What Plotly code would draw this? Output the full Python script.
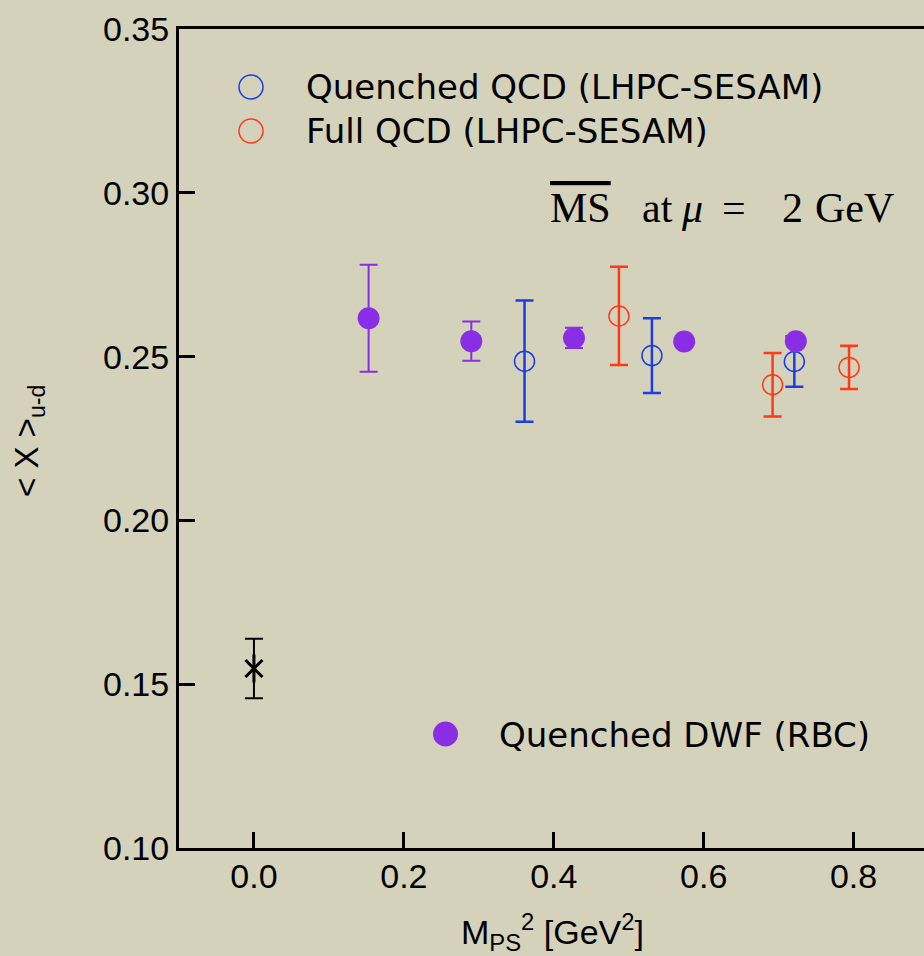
import plotly.graph_objects as go

# ---------------- data ----------------
dwf_x = [0.153, 0.290, 0.427, 0.574, 0.723]
dwf_y = [0.2617, 0.2547, 0.2557, 0.2546, 0.2547]
dwf_err = [0.0163, 0.0060, 0.0031, 0.0015, 0.0015]

qqcd_x = [0.361, 0.531, 0.721]
qqcd_y = [0.2486, 0.2503, 0.2485]
qqcd_err = [0.0185, 0.0114, 0.0077]

fqcd_x = [0.487, 0.692, 0.794]
fqcd_y = [0.2624, 0.2414, 0.2467]
fqcd_err = [0.0150, 0.0097, 0.0066]

exp_x = [0.0]
exp_y = [0.1548]
exp_err = [0.0091]

x_ticks = [0.0, 0.2, 0.4, 0.6, 0.8]
y_ticks = [0.10, 0.15, 0.20, 0.25, 0.30, 0.35]

PURPLE = "#8A2EE6"
BLUE = "#1E3CE6"
RED = "#FF3A1A"
BG = "#D4D2BB"

W, H = 924, 956
ML, MR, MT, MB = 179, 0, 29, 108
PW, PH = W - ML - MR, H - MT - MB


def px(x):
    return (x - ML) / PW


def py(y):
    return (H - MB - y) / PH


fig = go.Figure()

fig.add_trace(go.Scatter(
    x=qqcd_x, y=qqcd_y, mode="markers", name="Quenched QCD (LHPC-SESAM)",
    marker=dict(symbol="circle-open", size=20, color=BLUE, line=dict(width=1.5, color=BLUE)),
    error_y=dict(type="data", array=qqcd_err, color=BLUE, thickness=2.5, width=9),
))
fig.add_trace(go.Scatter(
    x=fqcd_x, y=fqcd_y, mode="markers", name="Full QCD (LHPC-SESAM)",
    marker=dict(symbol="circle-open", size=20, color=RED, line=dict(width=1.5, color=RED)),
    error_y=dict(type="data", array=fqcd_err, color=RED, thickness=2.5, width=9),
))
fig.add_trace(go.Scatter(
    x=dwf_x, y=dwf_y, mode="markers", name="Quenched DWF (RBC)",
    marker=dict(symbol="circle", size=22, color=PURPLE),
    error_y=dict(type="data", array=dwf_err, color=PURPLE, thickness=2, width=9),
))
fig.add_trace(go.Scatter(
    x=exp_x, y=exp_y, mode="markers", name="experiment",
    marker=dict(symbol="x-thin-open", size=17, color="black", line=dict(width=3, color="black")),
    error_y=dict(type="data", array=exp_err, color="black", thickness=2, width=9),
))
fig.add_trace(go.Scatter(
    x=exp_x, y=exp_y, mode="markers", name="experiment2",
    marker=dict(symbol="line-ns-open", size=20, color="black", line=dict(width=3, color="black")),
))

axis_common = dict(
    showline=True, linewidth=3, linecolor="black",
    ticks="inside", ticklen=16, tickwidth=3, tickcolor="black",
    showgrid=False, zeroline=False,
    tickfont=dict(family="Liberation Sans, Arial, sans-serif", size=34, color="black"),
)

fig.update_xaxes(range=[-0.1, 0.894], tickvals=x_ticks,
                 ticktext=[f"{v:.1f}" for v in x_ticks], mirror=True,
                 ticklabelstandoff=-4, **axis_common)
fig.update_yaxes(range=[0.10, 0.35], tickvals=y_ticks,
                 ticktext=[f"{v:.2f}" for v in y_ticks], mirror=False, **axis_common)

legend_font = dict(family="DejaVu Sans, sans-serif", size=34, color="black")
serif = dict(family="Liberation Serif, Times New Roman, serif", size=42, color="black")
annotations = [
    dict(x=px(304), y=py(87), text="Quenched QCD (LHPC-SESAM)", xanchor="left", yanchor="middle",
         font=legend_font),
    dict(x=px(304), y=py(131), text="Full QCD (LHPC-SESAM)", xanchor="left", yanchor="middle",
         font=legend_font),
    dict(x=px(497), y=py(735), text="Quenched DWF (RBC)", xanchor="left", yanchor="middle",
         font=legend_font),
    # MS-bar scheme label, pieces placed like the typeset formula
    dict(x=px(548), y=py(208), text='<span style="text-decoration:overline">MS</span>',
         xanchor="left", yanchor="middle", font=serif),
    dict(x=px(640), y=py(208), text="at", xanchor="left", yanchor="middle", font=serif),
    dict(x=px(679), y=py(208), text="<i>μ</i>", xanchor="left", yanchor="middle", font=serif),
    dict(x=px(720), y=py(208), text="=", xanchor="left", yanchor="middle", font=serif),
    dict(x=px(780), y=py(208), text="2", xanchor="left", yanchor="middle", font=serif),
    dict(x=px(813), y=py(208), text="GeV", xanchor="left", yanchor="middle", font=serif),
    dict(x=px(552), y=py(932), text="M<sub>PS</sub><sup>2</sup> [GeV<sup>2</sup>]",
         xanchor="center", yanchor="middle",
         font=dict(family="Liberation Sans, Arial, sans-serif", size=34, color="black")),
    dict(x=px(29), y=py(441), text="&lt; X &gt;<sub>u-d</sub>", textangle=-90,
         xanchor="center", yanchor="middle",
         font=dict(family="Liberation Sans, Arial, sans-serif", size=33, color="black")),
]
for a in annotations:
    a.update(xref="paper", yref="paper", showarrow=False)

shapes = [
    dict(type="circle", xref="paper", yref="paper", xsizemode="pixel", ysizemode="pixel",
         xanchor=px(251), yanchor=py(87), x0=-12, x1=12, y0=-12, y1=12,
         line=dict(color=BLUE, width=1.5)),
    dict(type="circle", xref="paper", yref="paper", xsizemode="pixel", ysizemode="pixel",
         xanchor=px(251), yanchor=py(131), x0=-12, x1=12, y0=-12, y1=12,
         line=dict(color=RED, width=1.5)),
    dict(type="circle", xref="paper", yref="paper", xsizemode="pixel", ysizemode="pixel",
         xanchor=px(445.5), yanchor=py(734), x0=-12.5, x1=12.5, y0=-12.5, y1=12.5,
         line=dict(color=PURPLE, width=0), fillcolor=PURPLE),
]

fig.update_layout(
    width=W, height=H, autosize=False,
    margin=dict(l=ML, r=MR, t=MT, b=MB, pad=0),
    paper_bgcolor=BG, plot_bgcolor=BG,
    showlegend=False,
    annotations=annotations, shapes=shapes,
)

fig.write_html("out.html")
